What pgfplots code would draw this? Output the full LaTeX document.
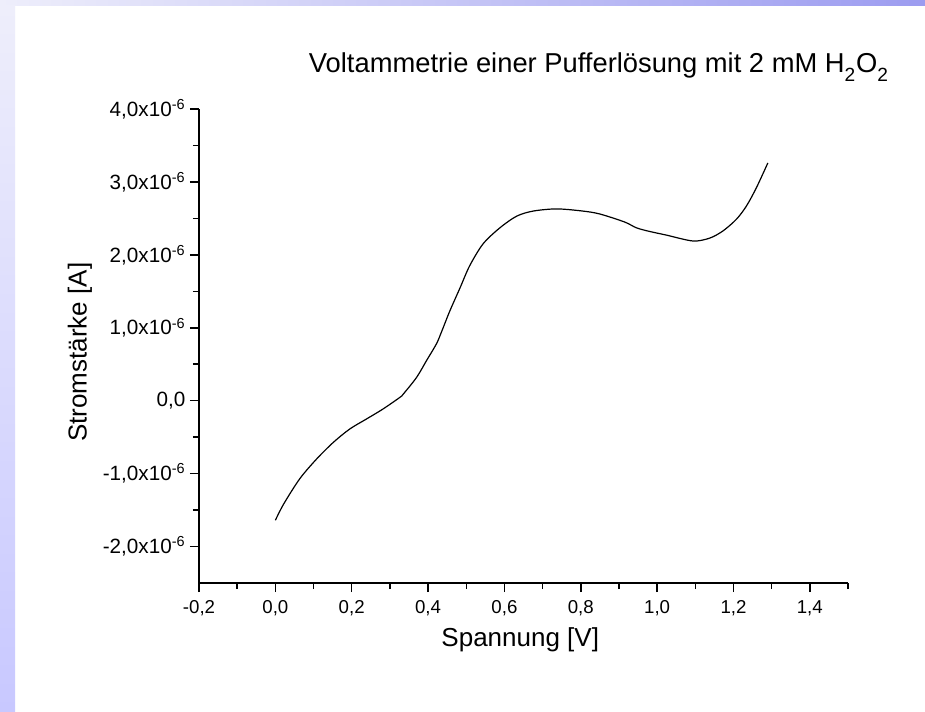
\documentclass[border=0pt]{standalone}
\usepackage{pgfplots}
\pgfplotsset{compat=1.18}
\usepackage{fontspec}
\setmainfont{Liberation Sans}
\definecolor{bandlight}{HTML}{EEEEFB}
\definecolor{banddark}{HTML}{9C9CF0}
\definecolor{bandleft}{HTML}{C8C8FF}
\begin{document}
\begin{tikzpicture}[x=0.75pt,y=0.75pt]
\fill[white] (0,0) rectangle (925,711);
\shade[left color=bandlight, right color=banddark] (0,705) rectangle (925,711);
\shade[top color=bandlight, bottom color=bandleft] (0,0) rectangle (15,705);
\begin{axis}[
  at={(149.25pt,96pt)}, anchor=south west,
  scale only axis, width=486.75pt, height=355.5pt,
  xmin=-0.2, xmax=1.5, ymin=-2.5, ymax=4,
  axis x line*=bottom, axis y line*=left,
  axis line style={line width=1.1pt},
  every tick/.style={black, line width=1.1pt},
  tick align=outside,
  major tick length=6.75pt, minor tick length=4.5pt,
  xtick={-0.2,0,0.2,0.4,0.6,0.8,1.0,1.2,1.4},
  xticklabels={{-0,2},{0,0},{0,2},{0,4},{0,6},{0,8},{1,0},{1,2},{1,4}},
  minor xtick={-0.1,0.1,0.3,0.5,0.7,0.9,1.1,1.3,1.5},
  ytick={-2,-1,0,1,2,3,4},
  yticklabels={{-2,0x10\textsuperscript{-6}},{-1,0x10\textsuperscript{-6}},{0,0},{1,0x10\textsuperscript{-6}},{2,0x10\textsuperscript{-6}},{3,0x10\textsuperscript{-6}},{4,0x10\textsuperscript{-6}}},
  minor ytick={-1.5,-0.5,0.5,1.5,2.5,3.5},
  scaled ticks=false,
  x tick label style={font=\fontsize{14}{16}\selectfont, yshift=-3pt},
  y tick label style={font=\fontsize{15.5}{18}\selectfont},
  xlabel={Spannung [V]},
  ylabel={Stromstärke [A]},
  label style={font=\fontsize{19.5}{22}\selectfont},
  xlabel style={at={(axis description cs:0.495,-0.12)}, anchor=center},
  ylabel style={at={(axis description cs:-0.1834,0.487)}, anchor=center},
  title={Voltammetrie einer Pufferlösung mit 2 mM H\raisebox{-0.35ex}{\textsubscript{2}}O\raisebox{-0.35ex}{\textsubscript{2}}},
  title style={at={(axis description cs:0.616,1)}, anchor=base, yshift=21.5pt, font=\fontsize{20.5}{24}\selectfont},
  clip=false,
]
\addplot[black, line width=0.9pt, smooth, tension=0.5] coordinates {
(0.000,-1.64)
(0.022,-1.415)
(0.064,-1.07)
(0.108,-0.80)
(0.152,-0.571)
(0.195,-0.388)
(0.239,-0.25)
(0.282,-0.114)
(0.326,0.045)
(0.335,0.09)
(0.370,0.32)
(0.396,0.55)
(0.422,0.78)
(0.435,0.94)
(0.457,1.23)
(0.484,1.55)
(0.509,1.85)
(0.544,2.15)
(0.588,2.37)
(0.632,2.53)
(0.675,2.60)
(0.737,2.63)
(0.806,2.60)
(0.850,2.56)
(0.915,2.45)
(0.946,2.37)
(0.981,2.32)
(1.025,2.27)
(1.094,2.19)
(1.138,2.23)
(1.173,2.33)
(1.208,2.49)
(1.234,2.67)
(1.260,2.92)
(1.290,3.26)
};
\end{axis}
\end{tikzpicture}
\end{document}
